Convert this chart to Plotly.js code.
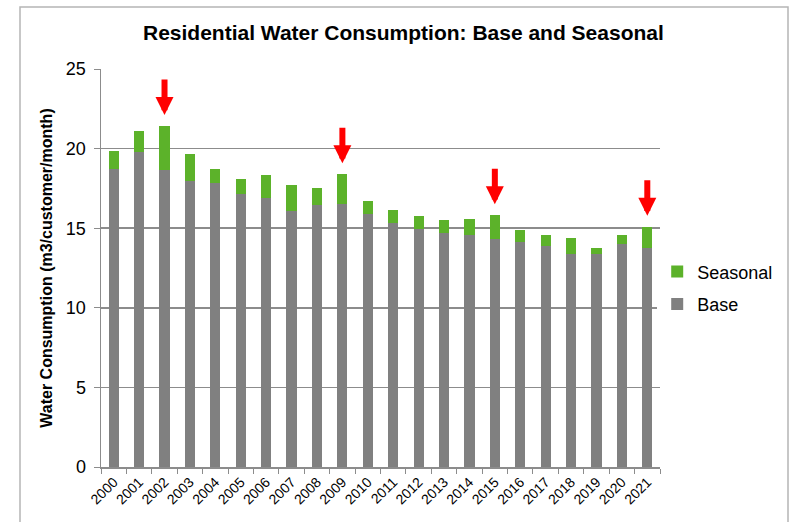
<!DOCTYPE html>
<html>
<head>
<meta charset="utf-8">
<script src="https://cdn.plot.ly/plotly-3.0.1.min.js"></script>
<style>
html,body{margin:0;padding:0;background:#fff;}
#chart{width:791px;height:522px;}
</style>
</head>
<body>
<div id="chart"></div>
<script>
const years = ["2000","2001","2002","2003","2004","2005","2006","2007","2008","2009","2010","2011","2012","2013","2014","2015","2016","2017","2018","2019","2020","2021"];
const baseVals = [18.74,19.79,18.66,17.98,17.86,17.15,16.88,16.10,16.46,16.52,15.87,15.35,14.95,14.72,14.57,14.32,14.11,13.88,13.36,13.36,13.99,13.78];
const seasonalVals = [1.11,1.30,2.76,1.66,0.86,0.92,1.44,1.63,1.08,1.87,0.84,0.77,0.82,0.81,1.01,1.49,0.78,0.69,1.04,0.40,0.58,1.31];
const arrowYears = ["2002","2009","2015","2021"];

const traces = [
  {type:'bar', name:'Base', x:years, y:baseVals, marker:{color:'#808080'}, legendgroup:'b', legendrank:2},
  {type:'bar', name:'Seasonal', x:years, y:seasonalVals, marker:{color:'#5cb22a'}, legendgroup:'a', legendrank:1}
];

const annotations = arrowYears.map(yr => {
  const i = years.indexOf(yr);
  return {
    x: i, y: baseVals[i] + seasonalVals[i], xref:'x', yref:'y',
    showarrow:true, arrowhead:2, arrowsize:0.6, arrowwidth:6, arrowcolor:'#ff0000',
    ax:0, ay:-48, standoff:11, text:''
  };
});

const layout = {
  width:791, height:522,
  margin:{l:101, r:131, t:69, b:55, autoexpand:false},
  paper_bgcolor:'#ffffff', plot_bgcolor:'#ffffff',
  font:{family:'Liberation Sans, Arial, sans-serif', color:'#000'},
  barmode:'stack', bargap:0.6,
  title:{text:'<b>Residential Water Consumption: Base and Seasonal</b>', font:{size:21, color:'#000'}, x:0.51, xanchor:'center', y:0.937, yanchor:'middle'},
  xaxis:{type:'category', range:[-0.5,21.5], tickangle:-45, tickfont:{size:14}, showline:true, linecolor:'#8c8c8c', linewidth:1.5,
         ticks:'outside', tickson:'boundaries', ticklen:5, tickcolor:'#8c8c8c', showgrid:false},
  yaxis:{range:[0,25], dtick:5, tickfont:{size:18}, showline:true, linecolor:'#8c8c8c', linewidth:1.5,
         gridcolor:'#8c8c8c', gridwidth:1.5, ticks:'outside', ticklen:6, tickcolor:'#8c8c8c', zeroline:false,
         ticklabelstandoff:4,
         title:{text:'<b>Water Consumption (m3/customer/month)</b>', font:{size:16}, standoff:9}},
  legend:{x:0.995, xanchor:'left', y:0.45, yanchor:'middle', traceorder:'grouped', font:{size:18}, itemwidth:30, tracegroupgap:6},
  annotations: annotations,
  shapes:[{type:'rect', xref:'paper', yref:'paper', x0:(20-101)/559, x1:(788-101)/559, y0:(467-540)/398, y1:(467-7)/398,
           line:{color:'#b5b5b5', width:1.5}, fillcolor:'rgba(0,0,0,0)', layer:'below'}]
};

Plotly.newPlot('chart', traces, layout, {displayModeBar:false, staticPlot:true});
</script>
</body>
</html>
